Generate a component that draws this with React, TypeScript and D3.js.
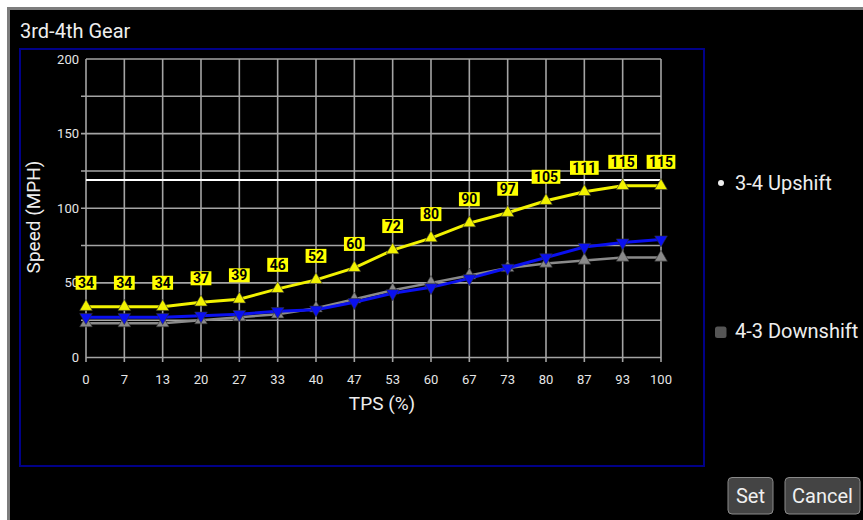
import React from "react";
import * as d3 from "d3";

const tpsLabels = ["0", "7", "13", "20", "27", "33", "40", "47", "53", "60", "67", "73", "80", "87", "93", "100"];
const upshift = [34, 34, 34, 37, 39, 46, 52, 60, 72, 80, 90, 97, 105, 111, 115, 115];
const downshift = [27, 27, 27, 28, 29, 31, 32, 37, 43, 47, 53, 60, 67, 74, 77, 79];
const downshiftRef = [23, 23, 23, 25, 27, 29, 33, 39, 45, 50, 55, 60, 63, 65, 67, 67];
const yTicks = [0, 50, 100, 150, 200];
const yGrid = [0, 25, 50, 75, 100, 125, 150, 175, 200];
const maxSpeed = 119;
const legendItems = ["3-4 Upshift", "4-3 Downshift"];

const W = 863;
const H = 520;
const FONT = "Roboto, 'Noto Sans', sans-serif";

export default function App() {
  const x = d3.scaleLinear().domain([0, tpsLabels.length - 1]).range([86, 661]);
  const y = d3.scaleLinear().domain([0, 200]).range([357.5, 59]);
  const line = d3
    .line<number>()
    .x((_, i) => x(i))
    .y((d) => y(d));
  const triUp = d3.symbol().type(d3.symbolTriangle).size(70)() as string;

  const series = [
    { data: downshiftRef, color: "#8a8a8a", marker: "up", width: 2.5 },
    { data: downshift, color: "#0a10f0", marker: "down", width: 3 },
    { data: upshift, color: "#f2f200", marker: "up", width: 3 },
  ];

  return (
    <>
      <style>{`body{margin:0;}`}</style>
      <svg width={W} height={H} style={{ display: "block", fontFamily: FONT }}>
        <rect x={0} y={0} width={W} height={H} fill="#ffffff" />
        <rect x={7} y={7} width={W - 7} height={H - 7} fill="#7d7d7d" />
        <rect x={10} y={10} width={W - 10} height={H - 10} fill="#000000" />

        <text x={20} y={38} fill="#eeeeee" fontSize={20}>
          3rd-4th Gear
        </text>

        <rect x={20} y={49} width={684} height={417} fill="none" stroke="#000088" strokeWidth={2} />

        {/* grid */}
        {yGrid.map((v) => (
          <line
            key={"h" + v}
            x1={v === 0 || v === 200 ? 86 : 81}
            x2={661}
            y1={y(v)}
            y2={y(v)}
            stroke="#a4a4a4"
            strokeWidth={1.6}
          />
        ))}
        {tpsLabels.map((_, i) => (
          <line key={"v" + i} x1={x(i)} x2={x(i)} y1={59} y2={362} stroke="#a4a4a4" strokeWidth={1.6} />
        ))}
        <line x1={86} x2={661} y1={y(maxSpeed)} y2={y(maxSpeed)} stroke="#ffffff" strokeWidth={2} />

        {/* y ticks */}
        {yTicks.map((v) => (
          <text key={"yt" + v} x={79} y={y(v)} dy="0.35em" textAnchor="end" fill="#e6e6e6" fontSize={13}>
            {v}
          </text>
        ))}
        {/* x ticks */}
        {tpsLabels.map((l, i) => (
          <text key={"xt" + i} x={x(i)} y={384} textAnchor="middle" fill="#e6e6e6" fontSize={13}>
            {l}
          </text>
        ))}

        <text x={382} y={410} textAnchor="middle" fill="#eeeeee" fontSize={19}>
          TPS (%)
        </text>
        <text
          transform={`translate(40,217) rotate(-90)`}
          textAnchor="middle"
          fill="#eeeeee"
          fontSize={19}
        >
          Speed (MPH)
        </text>

        {/* series */}
        {series.map((s, si) => (
          <g key={"s" + si}>
            <path d={line(s.data) as string} fill="none" stroke={s.color} strokeWidth={s.width} />
            {s.data.map((v, i) => (
              <path
                key={i}
                d={triUp}
                transform={`translate(${x(i)},${y(v)})${s.marker === "down" ? " rotate(180)" : ""}`}
                fill={s.color}
                stroke="#333"
                strokeWidth={0.6}
              />
            ))}
          </g>
        ))}

        {/* value labels */}
        {upshift.map((v, i) => {
          const label = String(v);
          const w = label.length * 7.9 + 5;
          const bottom = y(v) - 17;
          return (
            <g key={"lb" + i}>
              <rect x={x(i) - w / 2} y={bottom - 14} width={w} height={14} fill="#ffff00" />
              <text
                x={x(i)}
                y={bottom - 2}
                textAnchor="middle"
                fontSize={14}
                fontWeight="bold"
                fill="#000"
              >
                {label}
              </text>
            </g>
          );
        })}

        {/* legend */}
        <circle cx={721} cy={183} r={3} fill="#eeeeee" />
        <text x={735} y={190} fill="#eeeeee" fontSize={20}>
          {legendItems[0]}
        </text>
        <rect x={715} y={326.5} width={11.5} height={11.5} rx={2.5} fill="#555555" />
        <text x={735} y={338} fill="#eeeeee" fontSize={20}>
          {legendItems[1]}
        </text>

        {/* buttons */}
        <rect x={728} y={477.5} width={45} height={36.5} rx={4} fill="#444444" stroke="#8a8a8a" strokeWidth={1} />
        <text x={750.5} y={503} textAnchor="middle" fill="#f0f0f0" fontSize={20}>
          Set
        </text>
        <rect x={785} y={477.5} width={75} height={36.5} rx={4} fill="#444444" stroke="#8a8a8a" strokeWidth={1} />
        <text x={822.5} y={503} textAnchor="middle" fill="#f0f0f0" fontSize={20}>
          Cancel
        </text>
      </svg>
    </>
  );
}
